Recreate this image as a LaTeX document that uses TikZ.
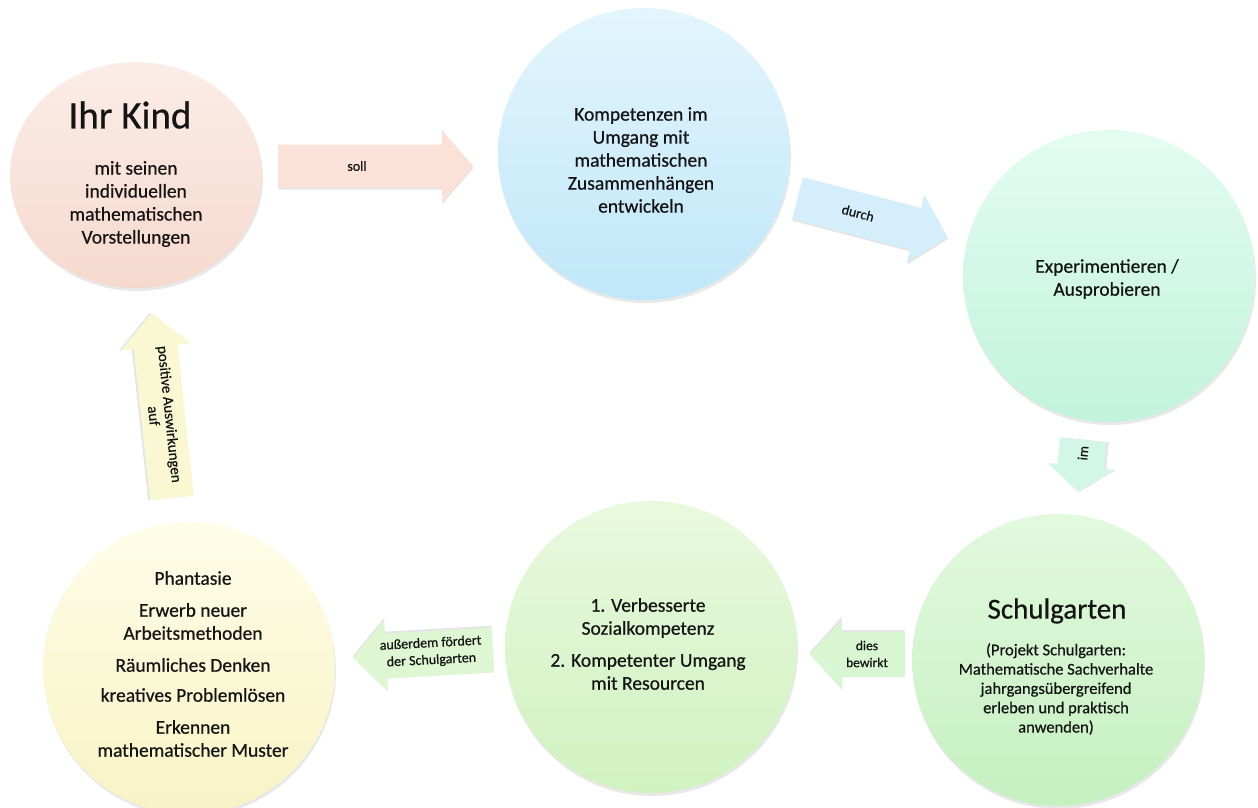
\documentclass[tikz,border=0pt]{standalone}
\usepackage{fontspec}
\setmainfont{Carlito}[FakeBold=0.6]
\usetikzlibrary{shapes.geometric,shadows}
\definecolor{txtc}{HTML}{141414}
\definecolor{kindtop}{HTML}{FBEDE7}
\definecolor{kindbot}{HTML}{F6D9CD}
\definecolor{bluetop}{HTML}{E3F5FD}
\definecolor{bluebot}{HTML}{C0E7F9}
\definecolor{exptop}{HTML}{E3FCF2}
\definecolor{expbot}{HTML}{C2F3DB}
\definecolor{schultop}{HTML}{E2F9DE}
\definecolor{schulbot}{HTML}{C5F0C0}
\definecolor{midtop}{HTML}{E9F9DE}
\definecolor{midbot}{HTML}{D0F2C0}
\definecolor{yeltop}{HTML}{FEFDE8}
\definecolor{yelbot}{HTML}{F8F3C5}
\definecolor{sollc}{HTML}{FAE2D9}
\definecolor{durchc}{HTML}{D4EFFB}
\definecolor{imc}{HTML}{D3F7E7}
\definecolor{diesc}{HTML}{D9F6D3}
\definecolor{ausc}{HTML}{DFF6D2}
\definecolor{posc}{HTML}{FAF8D3}
% #1 x, #2 y, #3 angle, #4 body length, #5 body half width, #6 head half width, #7 head length, #8 style
\newcommand{\fatarrow}[8]{%
  \begin{scope}[shift={(#1,#2)}, rotate=#3]
    \path[#8] (0,-#5) -- (#4,-#5) -- (#4,-#6) -- ({#4+#7},0) -- (#4,#6) -- (#4,#5) -- (0,#5) -- cycle;
  \end{scope}}
\begin{document}
\begin{tikzpicture}[x=1pt,y=-1pt,
  circ/.style={circle, inner sep=0pt, minimum size=292pt,
    drop shadow={opacity=0.18, shadow xshift=1pt, shadow yshift=-3pt}},
  txt/.style={align=center, text=txtc, inner sep=0pt, font=\fontsize{19.5}{23}\selectfont},
  lbl/.style={align=center, text=txtc, inner sep=0pt, font=\fontsize{14}{17}\selectfont},
  arr/.style n args={3}{fill=#1, drop shadow={opacity=0.2, shadow xshift=#2, shadow yshift=#3}},
]
\useasboundingbox[fill=white] (0,0) rectangle (1258,807);

% circles
\node[circ, ellipse, minimum width=252pt, minimum height=226pt, top color=kindtop, bottom color=kindbot] (kind) at (136,175) {};
\node[circ, top color=bluetop, bottom color=bluebot] (komp) at (644,154) {};
\node[circ, top color=exptop, bottom color=expbot] (expe) at (1109,276) {};
\node[circ, top color=schultop, bottom color=schulbot] (schul) at (1058,660) {};
\node[circ, top color=midtop, bottom color=midbot] (sozial) at (651,647) {};
\node[circ, top color=yeltop, bottom color=yelbot] (phant) at (189,668) {};

% arrows
\fatarrow{278}{166}{0}{164}{21.5}{36}{31}{arr={sollc}{0.5pt}{-2pt}}
\fatarrow{797.5}{198}{-14.6}{122}{21.5}{35}{33}{arr={durchc}{0.5pt}{-2pt}}
\fatarrow{1083.5}{440}{-96}{27}{23.5}{33}{25}{arr={imc}{2pt}{0.2pt}}
\fatarrow{905}{654.5}{180}{63}{22.5}{35.5}{32}{arr={diesc}{-0.5pt}{2pt}}
\fatarrow{493}{650}{183.3}{107}{22.5}{36}{33}{arr={ausc}{-0.5pt}{2pt}}
\fatarrow{172}{498}{96.2}{152}{22}{35}{34}{arr={posc}{-2pt}{0.2pt}}

% circle texts
\node[txt, font=\fontsize{39}{44}\selectfont] (kindtitle) at (130,115) {Ihr Kind};
\node[txt] (kindbody) at (136,204) {mit seinen\\individuellen\\mathematischen\\Vorstellungen};
\node[txt] (kompbody) at (641,160) {Kompetenzen im\\Umgang mit\\mathematischen\\Zusammenhängen\\entwickeln};
\node[txt] (expebody) at (1107,279) {Experimentieren /\\Ausprobieren};
\node[txt, font=\fontsize{29}{33}\selectfont] (schultitle) at (1057,611) {Schulgarten};
\node[txt, font=\fontsize{16.5}{19.3}\selectfont] (schulbody) at (1056,689) {(Projekt Schulgarten:\\Mathematische Sachverhalte\\jahrgangsübergreifend\\erleben und praktisch\\anwenden)};
\node[txt] (sozialbody) at (648,644) {1. Verbesserte\\Sozialkompetenz\\[9pt]2. Kompetenter Umgang\\mit Resourcen};
\node[txt] (phantbody) at (193,664) {Phantasie\\[9pt]Erwerb neuer\\Arbeitsmethoden\\[9pt]Räumliches Denken\\[7pt]kreatives Problemlösen\\[9pt]Erkennen\\mathematischer Muster};

% arrow labels
\node[lbl] (sollLbl) at (357,166) {soll};
\node[lbl, rotate=-14.6] (durchLbl) at (858,213) {durch};
\node[lbl, rotate=84] (imLbl) at (1083,453) {im};
\node[lbl, font=\fontsize{13.5}{17}\selectfont] (diesLbl) at (867,654) {dies\\bewirkt};
\node[lbl, rotate=3] (ausLbl) at (431,652) {außerdem fördert\\der Schulgarten};
\node[lbl, rotate=-84, font=\fontsize{15}{16}\selectfont] (posLbl) at (162,415) {positive Auswirkungen\\auf};
\end{tikzpicture}
\end{document}
